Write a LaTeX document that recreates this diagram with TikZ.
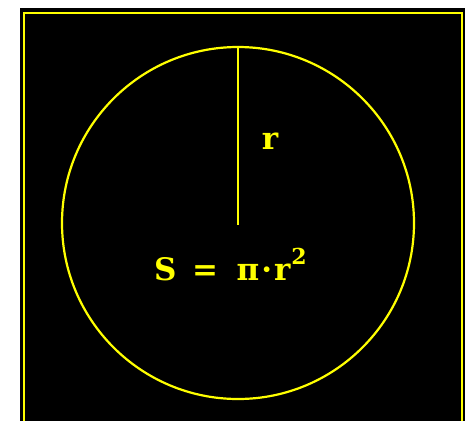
\documentclass[tikz,border=0pt]{standalone}
\usepackage{fontspec}
\usepackage{xcolor}
\usepackage{tikz}
\usetikzlibrary{positioning}
\newfontfamily\screenfont{DejaVu Serif}
\definecolor{glow}{HTML}{FFFF00}
\tikzset{
  frameline/.style={draw=glow, line width=2pt},
  disc/.style={circle, draw=glow, line width=2.2pt, minimum size=352pt, inner sep=0pt},
  radius/.style={draw=glow, line width=2.2pt},
  label/.style={text=glow, font=\screenfont\bfseries\fontsize{31}{38}\selectfont, inner sep=0pt},
}
\newcommand{\supsize}{\fontsize{22}{26}\selectfont}

\begin{document}
\begin{tikzpicture}[x=1pt, y=-1pt]
    \useasboundingbox (0,0) rectangle (465,421);
    \fill[black] (20,8) rectangle (465,421);
    \draw[frameline] (24,421) -- (24,13) -- (462,13) -- (462,421);
    \node[disc] (circ) at (238,223) {};
    \coordinate (mid) at (238,225);
    \draw[radius] (circ.north) -- (mid);
    \node[label, anchor=base] (rlab) at (270,149) {r};
    \node[label, anchor=base west] (area) at (154,280)
      {S\hspace{0.5em}=\hspace{0.6em}π\kern2pt·\kern2pt r\kern1pt\raisebox{0.5em}{\supsize 2}};
  \end{tikzpicture}
\end{document}
